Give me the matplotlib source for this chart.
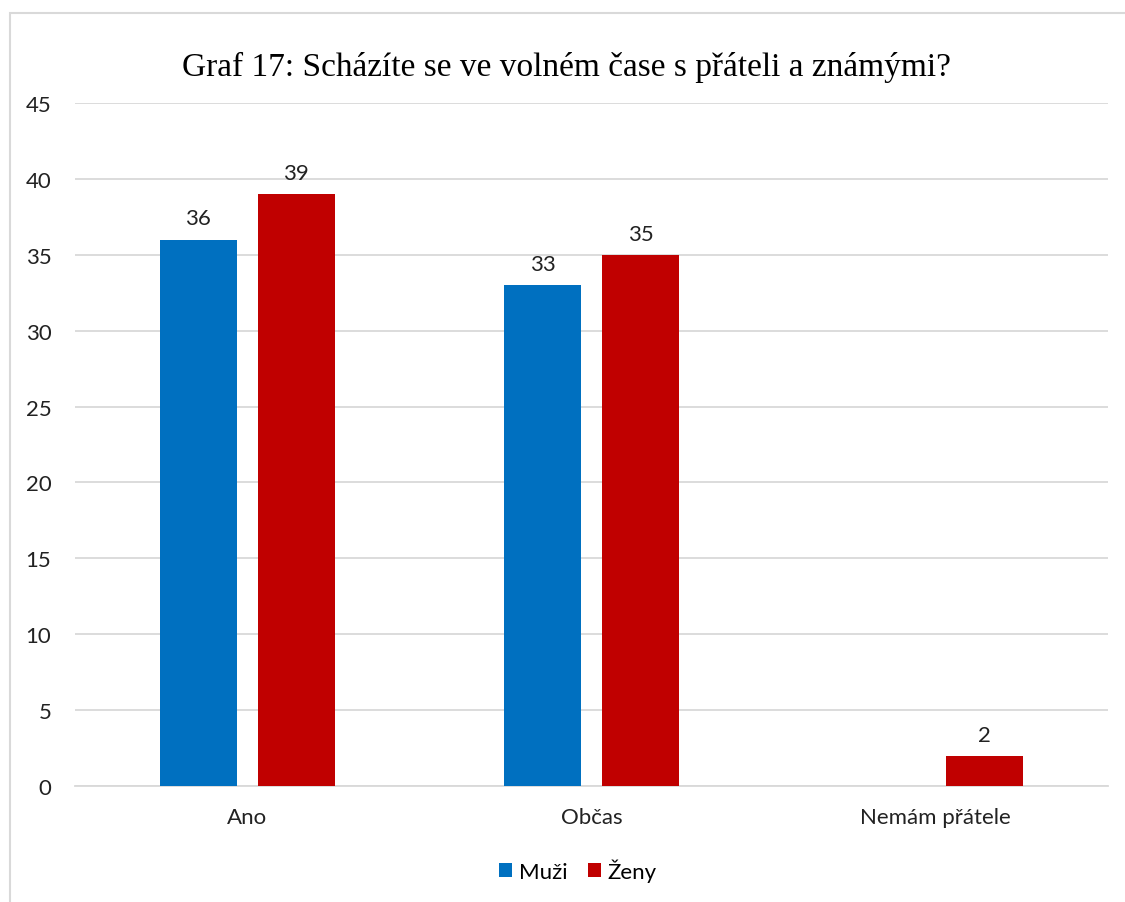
import numpy as np
import matplotlib.pyplot as plt
from matplotlib.patches import Rectangle

categories = ["Ano", "Občas", "Nemám přátele"]
muzi = [36, 33, 0]
zeny = [39, 35, 2]
series_names = ["Muži", "Ženy"]
colors = ["#0070C0", "#C00000"]
title = "Graf 17: Scházíte se ve volném čase s přáteli a známými?"

plt.rcParams["font.family"] = ["Lato", "DejaVu Sans"]

fig = plt.figure(figsize=(11.25, 9.03), dpi=100)
ax = fig.add_axes([75 / 1125, 116 / 903, 1033 / 1125, 683 / 903])

# light chart border
fig.patches.append(Rectangle((10 / 1125, -0.01), 1.2, (903 - 14) / 903 + 0.01,
                             transform=fig.transFigure, fill=False,
                             edgecolor="#D9D9D9", linewidth=1.5))

x = np.arange(len(categories))
width = 0.224
offset = 0.1425
for vals, off, col, name in zip([muzi, zeny], [-offset, offset], colors, series_names):
    ax.bar(x + off, vals, width, color=col, label=name, zorder=3)
    for xi, v in zip(x, vals):
        if v:
            ax.annotate(str(v), (xi + off, v), xytext=(0, 8), textcoords="offset points",
                        ha="center", va="bottom", fontsize=16, color="#222222")

ax.set_xlim(-0.5, 2.5)
ax.set_ylim(0, 45)
ax.set_yticks(range(0, 46, 5))
ax.set_xticks(x)
ax.set_xticklabels(categories)
ax.grid(axis="y", color="#D9D9D9", linewidth=1.3, zorder=0)
ax.tick_params(length=0, labelsize=16, colors="#222222")
ax.tick_params(axis="x", pad=15)
ax.tick_params(axis="y", pad=17)
for s in ["top", "right", "left"]:
    ax.spines[s].set_visible(False)
ax.spines["bottom"].set_color("#D9D9D9")
ax.spines["bottom"].set_linewidth(1.3)

fig.text(566 / 1125, 1 - 67 / 903, title, ha="center", va="center",
         fontsize=24, family=["Liberation Serif", "DejaVu Serif"])

fig.legend(loc="center", bbox_to_anchor=(578 / 1125, 1 - 871 / 903), ncol=2,
           frameon=False, fontsize=16, handlelength=0.6, handleheight=0.6,
           handletextpad=0.3, columnspacing=0.9)

fig.savefig("out.png", dpi=100)
